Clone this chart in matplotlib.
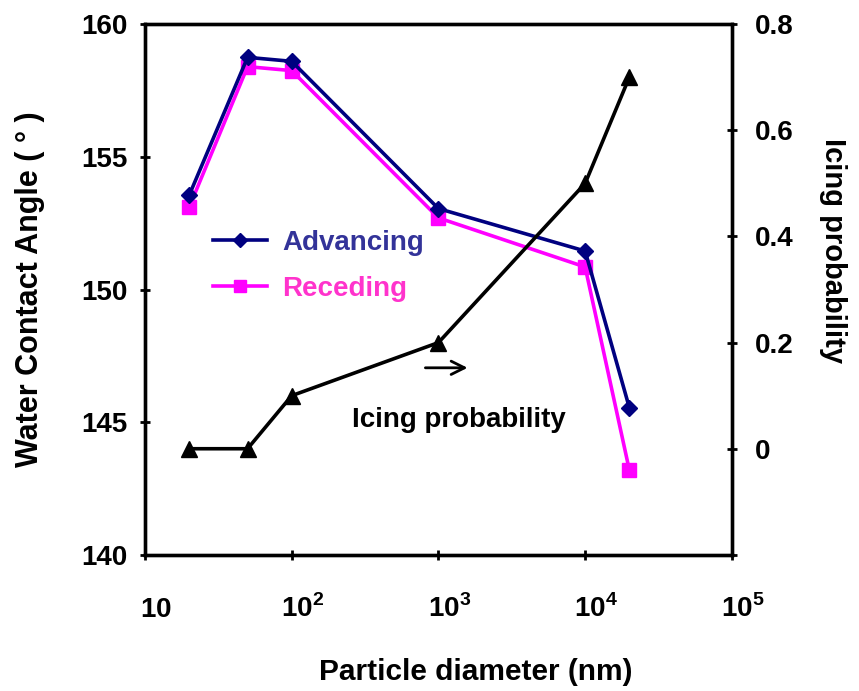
import numpy as np
import matplotlib
matplotlib.use("Agg")
import matplotlib.pyplot as plt
from matplotlib.transforms import ScaledTranslation

plt.rcParams["font.family"] = ["Liberation Sans", "DejaVu Sans"]
plt.rcParams["font.weight"] = "bold"
plt.rcParams["mathtext.fontset"] = "custom"
plt.rcParams["mathtext.rm"] = "Liberation Sans:bold"
plt.rcParams["mathtext.bf"] = "Liberation Sans:bold"

# data
diameter = [20, 50, 100, 1000, 10000, 20000]
advancing = [153.55, 158.75, 158.6, 153.05, 151.45, 145.55]
receding = [153.1, 158.4, 158.25, 152.7, 150.85, 143.2]
icing = [0.0, 0.0, 0.1, 0.2, 0.5, 0.7]

x_ticks = [10, 100, 1000, 10000, 100000]
x_ticklabels = [r"$10$", r"$10^{2}$", r"$10^{3}$", r"$10^{4}$", r"$10^{5}$"]
left_ticks = [140, 145, 150, 155, 160]
right_ticks = [-0.2, 0, 0.2, 0.4, 0.6, 0.8]
right_ticklabels = ["", "0", "0.2", "0.4", "0.6", "0.8"]

navy = "#000080"
magenta = "#FF00FF"

fig = plt.figure(figsize=(8.59, 6.91), dpi=100)
ax = fig.add_axes([0.1688, 0.197, 0.852 - 0.1688, 0.965 - 0.197])
ax2 = ax.twinx()

ax.plot(diameter, advancing, color=navy, lw=2.6, marker="D", ms=8.5, label="Advancing", zorder=3)
ax.plot(diameter, receding, color=magenta, lw=2.6, marker="s", ms=10, label="Receding", zorder=2)
ax2.plot(diameter, icing, color="black", lw=2.6, marker="^", ms=11)

ax.set_xscale("log")
ax.set_xlim(10, 100000)
ax.set_ylim(140, 160)
ax.set_xticks(x_ticks)
ax.set_xticklabels(x_ticklabels)
ax.minorticks_off()
ax.set_yticks(left_ticks)
ax2.set_ylim(-0.2, 0.8)
ax2.set_yticks(right_ticks)
ax2.set_yticklabels(right_ticklabels)

for a in (ax, ax2):
    for s in a.spines.values():
        s.set_linewidth(2.4)
ax.tick_params(axis="both", direction="inout", length=7, width=2, labelsize=20)
ax.tick_params(axis="x", pad=41)
ax.tick_params(axis="y", pad=9)
ax2.tick_params(axis="y", direction="inout", length=7, width=2, labelsize=20, pad=13)

# x labels share one baseline and sit a little right of their ticks, as in the reference
shift = ScaledTranslation(11 / 100, 0, fig.dpi_scale_trans)
for lbl in ax.get_xticklabels():
    lbl.set_va("baseline")
    lbl.set_transform(lbl.get_transform() + shift)

ax.set_xlabel("Particle diameter (nm)", fontsize=21.5, fontweight="bold")
ax.xaxis.set_label_coords(0.564, -0.195)
ax.set_ylabel("Water Contact Angle ( ° )", fontsize=22, fontweight="bold")
ax.yaxis.set_label_coords(-0.17, 0.5)
ax2.set_ylabel("Icing probability", fontsize=21, fontweight="bold", rotation=-90)
ax2.yaxis.set_label_coords(1.197, 0.574)

leg = ax.legend(loc="upper left", bbox_to_anchor=(0.116, 0.613), frameon=False,
                fontsize=20, handlelength=1.95, handletextpad=0.55, labelspacing=0.72,
                borderpad=0, borderaxespad=0, markerscale=0.8,
                labelcolor=["#333399", "#FF33CC"])

ax.annotate("", xy=(1650, 147.05), xytext=(780, 147.05),
            arrowprops=dict(arrowstyle="->", color="black", lw=2, mutation_scale=24))
ax.text(1380, 145.1, "Icing probability", fontsize=20, fontweight="bold", ha="center", va="center")

fig.savefig("out.png", dpi=100)
